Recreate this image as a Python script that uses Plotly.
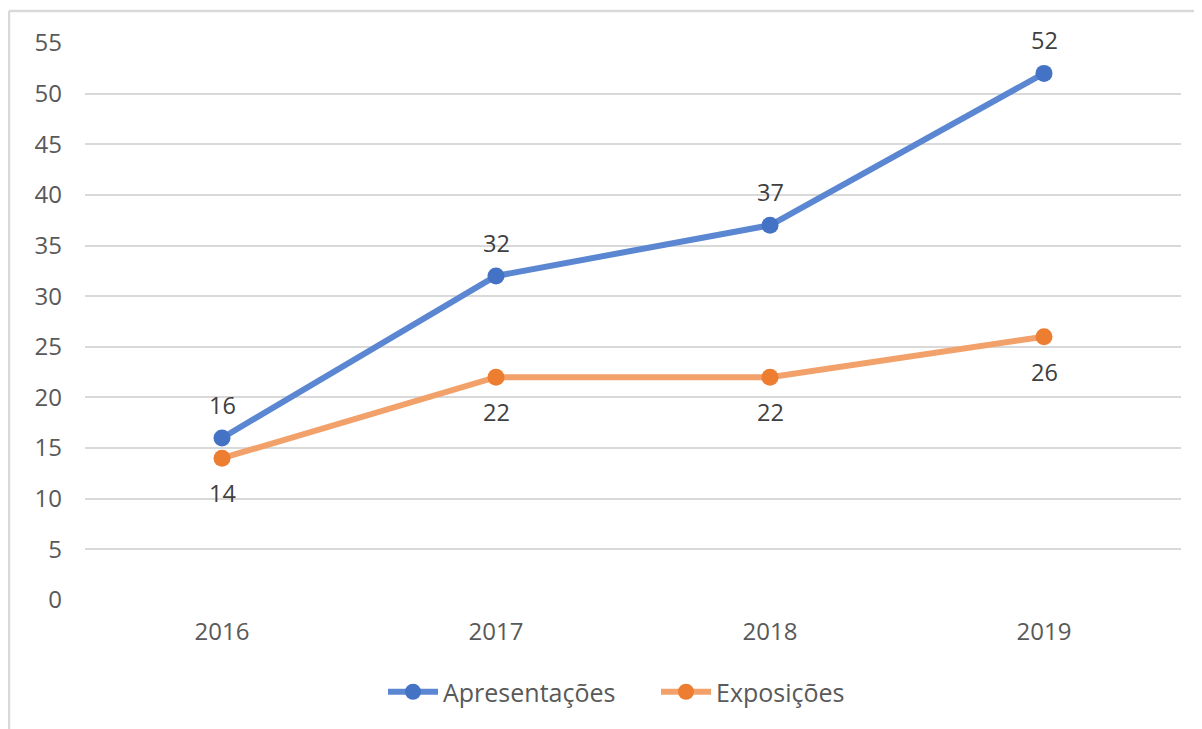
import plotly.graph_objects as go

years = ["2016", "2017", "2018", "2019"]
apresentacoes = [16, 32, 37, 52]
exposicoes = [14, 22, 22, 26]
y_ticks = [0, 5, 10, 15, 20, 25, 30, 35, 40, 45, 50, 55]

FONT = "Open Sans"
W, H = 1194, 721  # page body adds 8px offset
fig = go.Figure()
fig.add_trace(go.Scatter(
    x=years, y=apresentacoes, name="Apresentações", mode="lines+markers",
    line=dict(color="#5B87D2", width=6),
    marker=dict(color="#4472C4", size=17),
))
fig.add_trace(go.Scatter(
    x=years, y=exposicoes, name="Exposições", mode="lines+markers",
    line=dict(color="#F2A16A", width=6),
    marker=dict(color="#ED7D31", size=17),
))
for i, y in enumerate(apresentacoes):
    fig.add_annotation(x=i, y=y, text=str(y), showarrow=False, yshift=33,
                       font=dict(family=FONT, size=23.5, color="#404040"))
for i, y in enumerate(exposicoes):
    fig.add_annotation(x=i, y=y, text=str(y), showarrow=False, yshift=-35,
                       font=dict(family=FONT, size=23.5, color="#404040"))

pw = 1181 - 85
ph = 600 - 43
fig.update_layout(
    width=W, height=H,
    margin=dict(l=77, r=W - (1181 - 8), t=35, b=H - (600 - 8)),
    paper_bgcolor="white", plot_bgcolor="white",
    font=dict(family=FONT, size=24, color="#595959"),
    showlegend=True,
    legend=dict(orientation="h", x=(656 - 85) / pw, xanchor="center", y=(600 - 692) / ph,
                yanchor="middle",
                font=dict(family=FONT, size=25, color="#595959"),
                entrywidth=208, entrywidthmode="pixels", itemwidth=50),
    xaxis=dict(type="category", range=[-0.5, 3.5], showgrid=False, zeroline=False,
               showline=False, ticks="", ticklabelstandoff=15,
               tickfont=dict(size=24, color="#595959")),
    yaxis=dict(range=[0, 55], tickvals=y_ticks, showgrid=True, gridcolor="#D9D9D9",
               gridwidth=2, zeroline=False, showline=False, ticks="",
               ticklabelstandoff=22, tickfont=dict(size=24, color="#595959")),
    shapes=[
        dict(type="line", xref="paper", yref="paper", x0=-76 / pw, x1=1.2,
             y0=1 + 32 / ph, y1=1 + 32 / ph, line=dict(color="#D9D9D9", width=2.5)),
        dict(type="line", xref="paper", yref="paper", x0=-76 / pw, x1=-76 / pw,
             y0=1 + 32 / ph, y1=-0.5, line=dict(color="#D9D9D9", width=2.5)),
    ],
)
fig.write_html("out.html")
